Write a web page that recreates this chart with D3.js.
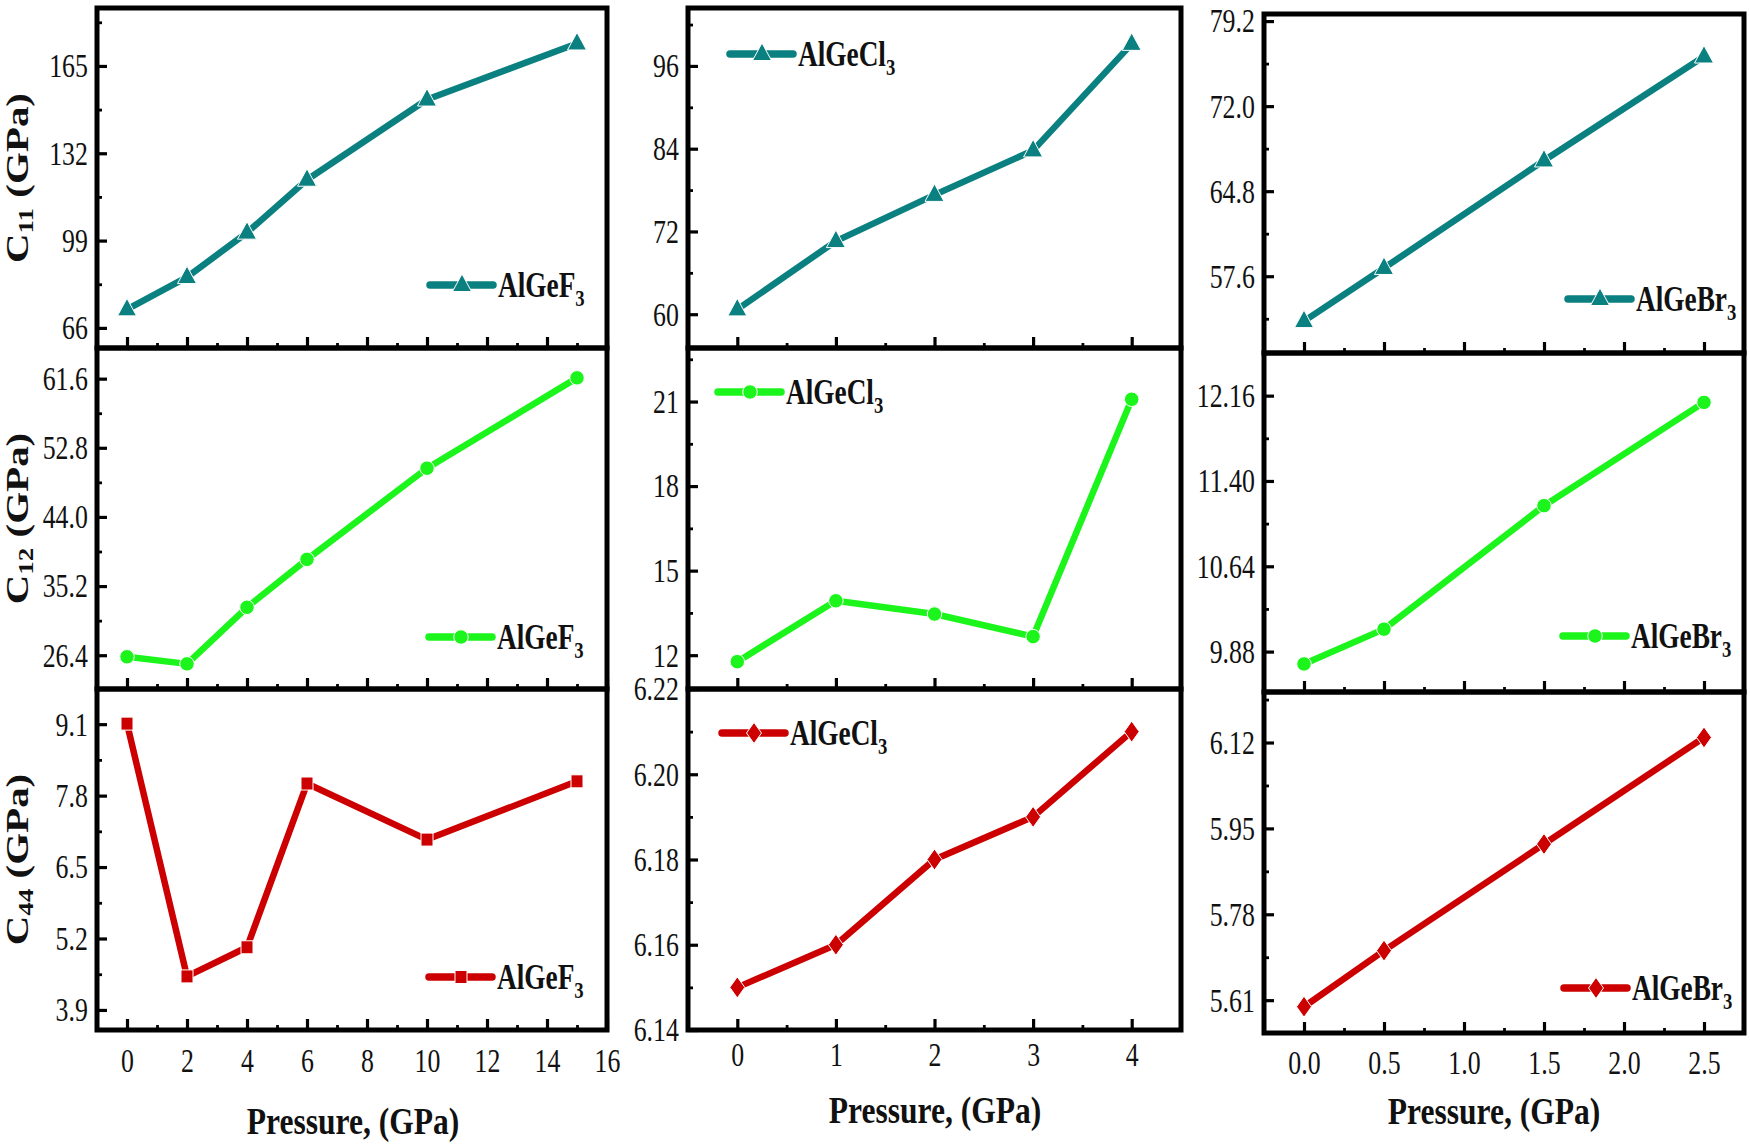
<!DOCTYPE html>
<html>
<head>
<meta charset="utf-8">
<script src="https://cdn.jsdelivr.net/npm/d3@7"></script>
<style>body{margin:0;background:#fff}</style>
</head>
<body>
<svg id="chart" width="1750" height="1144"></svg>
<script>
// ---------------- data ----------------
const pressF  = [0, 2, 4, 6, 10, 15];
const pressCl = [0, 1, 2, 3, 4];
const pressBr = [0, 0.5, 1.5, 2.5];

const c11F  = [73.0, 85.2, 102.0, 122.0, 152.3, 173.5];
const c11Cl = [60.7, 70.6, 77.3, 83.75, 99.2];
const c11Br = [53.8, 58.3, 67.4, 76.2];

const c12F  = [26.2, 25.3, 32.5, 38.6, 50.2, 61.7];
const c12Cl = [11.77, 13.93, 13.46, 12.66, 21.08];
const c12Br = [9.77, 10.08, 11.18, 12.10];

const c44F  = [9.11, 4.51, 5.04, 8.02, 7.0, 8.06];
const c44Cl = [6.15, 6.16, 6.18, 6.19, 6.21];
const c44Br = [5.597, 5.708, 5.919, 6.13];

const compounds = ["AlGeF", "AlGeCl", "AlGeBr"];
const constants = ["11", "12", "44"];
const xTitle = "Pressure, (GPa)";

const xTicksF  = [0, 2, 4, 6, 8, 10, 12, 14, 16];
const xMinorF  = [1, 3, 5, 7, 9, 11, 13, 15];
const xTicksCl = [0, 1, 2, 3, 4];
const xMinorCl = [0.5, 1.5, 2.5, 3.5];
const xTicksBr = [0, 0.5, 1, 1.5, 2, 2.5];
const xMinorBr = [0.25, 0.75, 1.25, 1.75, 2.25];

const yTicksC11F  = [66, 99, 132, 165];
const yMinorC11F  = [82.5, 115.5, 148.5, 181.5];
const yTicksC11Cl = [60, 72, 84, 96];
const yMinorC11Cl = [66, 78, 90, 102];
const yTicksC11Br = [57.6, 64.8, 72.0, 79.2];
const yMinorC11Br = [54.0, 61.2, 68.4, 75.6];
const yTicksC12F  = [26.4, 35.2, 44.0, 52.8, 61.6];
const yMinorC12F  = [30.8, 39.6, 48.4, 57.2];
const yTicksC12Cl = [12, 15, 18, 21];
const yMinorC12Cl = [13.5, 16.5, 19.5, 22.5];
const yTicksC12Br = [9.88, 10.64, 11.40, 12.16];
const yMinorC12Br = [10.26, 11.02, 11.78];
const yTicksC44F  = [3.9, 5.2, 6.5, 7.8, 9.1];
const yMinorC44F  = [4.55, 5.85, 7.15, 8.45];
const yTicksC44Cl = [6.14, 6.16, 6.18, 6.20, 6.22];
const yMinorC44Cl = [6.15, 6.17, 6.19, 6.21];
const yTicksC44Br = [5.61, 5.78, 5.95, 6.12];
const yMinorC44Br = [5.695, 5.865, 6.035, 6.205];

const yDomC11F  = [58.4, 186.9];
const yDomC11Cl = [55.1, 104.4];
const yDomC11Br = [51.1, 79.8];
const yDomC12F  = [22.1, 65.5];
const yDomC12Cl = [10.8, 22.9];
const yDomC12Br = [9.52, 12.54];
const yDomC44F  = [3.535, 9.74];
const yDomC44Cl = [6.14, 6.22];
const yDomC44Br = [5.545, 6.22];

// ---------------- layout / style ----------------
const FONT = "'Liberation Serif','Times New Roman',serif";
const colors = ["#0b8080", "#1cf51c", "#cc0000"];
const SX_TICK = 0.76, SX_LEG = 0.78, SX_TITLE = 0.83;

const columns = [
  {press: pressF,  xDom: [-1, 16],       xRange: [97, 607],    xTicks: xTicksF,  xMinor: xMinorF,  xFmt: d3.format("d"),   rowY: [8, 348, 689, 1030],  titleX: 353,  titleY: 1134, xPad: 18},
  {press: pressCl, xDom: [-0.5, 4.5],    xRange: [688, 1181],  xTicks: xTicksCl, xMinor: xMinorCl, xFmt: d3.format("d"),   rowY: [8, 348, 689, 1030],  titleX: 935,  titleY: 1123, xPad: 12},
  {press: pressBr, xDom: [-0.25, 2.75],  xRange: [1264, 1744], xTicks: xTicksBr, xMinor: xMinorBr, xFmt: d3.format(".1f"), rowY: [14, 353, 692, 1033], titleX: 1494, titleY: 1124, xPad: 17}
];

const panels = [
  // row 0: C11
  {c: 0, r: 0, vals: c11F,  dom: yDomC11F,  ticks: yTicksC11F,  minor: yMinorC11F,  fmt: d3.format("d"),   leg: [430, 285]},
  {c: 1, r: 0, vals: c11Cl, dom: yDomC11Cl, ticks: yTicksC11Cl, minor: yMinorC11Cl, fmt: d3.format("d"),   leg: [730, 54]},
  {c: 2, r: 0, vals: c11Br, dom: yDomC11Br, ticks: yTicksC11Br, minor: yMinorC11Br, fmt: d3.format(".1f"), leg: [1568, 299]},
  // row 1: C12
  {c: 0, r: 1, vals: c12F,  dom: yDomC12F,  ticks: yTicksC12F,  minor: yMinorC12F,  fmt: d3.format(".1f"), leg: [429, 637]},
  {c: 1, r: 1, vals: c12Cl, dom: yDomC12Cl, ticks: yTicksC12Cl, minor: yMinorC12Cl, fmt: d3.format("d"),   leg: [718, 392]},
  {c: 2, r: 1, vals: c12Br, dom: yDomC12Br, ticks: yTicksC12Br, minor: yMinorC12Br, fmt: d3.format(".2f"), leg: [1563, 636]},
  // row 2: C44
  {c: 0, r: 2, vals: c44F,  dom: yDomC44F,  ticks: yTicksC44F,  minor: yMinorC44F,  fmt: d3.format(".1f"), leg: [429, 977]},
  {c: 1, r: 2, vals: c44Cl, dom: yDomC44Cl, ticks: yTicksC44Cl, minor: yMinorC44Cl, fmt: d3.format(".2f"), leg: [722, 733]},
  {c: 2, r: 2, vals: c44Br, dom: yDomC44Br, ticks: yTicksC44Br, minor: yMinorC44Br, fmt: d3.format(".2f"), leg: [1564, 988]}
];

// marker shapes
const triangle = {draw(ctx){ ctx.moveTo(0,-11); ctx.lineTo(9.5,6.5); ctx.lineTo(-9.5,6.5); ctx.closePath(); }};
const circle   = d3.symbolCircle;
const square   = {draw(ctx){ ctx.rect(-6,-6.5,12,13); }};
const diamond  = {draw(ctx){ ctx.moveTo(0,-10.5); ctx.lineTo(7.5,0); ctx.lineTo(0,10.5); ctx.lineTo(-7.5,0); ctx.closePath(); }};
function markerType(c, r){
  if (r === 0) return triangle;
  if (r === 1) return circle;
  return c === 0 ? square : diamond;
}

const svg = d3.select("#chart");

function styleAxis(g, sx, major){
  g.select(".domain").remove();
  g.selectAll(".tick line").attr("stroke", "#000").attr("stroke-width", major ? 3.2 : 2.8);
  g.selectAll(".tick text")
    .attr("font-family", FONT).attr("font-size", 34).attr("fill", "#111")
    .attr("transform", `scale(${sx},1)`);
}

panels.forEach(p => {
  const col = columns[p.c];
  const top = col.rowY[p.r], bot = col.rowY[p.r + 1];
  const x = d3.scaleLinear().domain(col.xDom).range(col.xRange);
  const y = d3.scaleLinear().domain(p.dom).range([bot, top]);
  const color = colors[p.r];
  const g = svg.append("g");

  // frame
  g.append("rect")
    .attr("x", col.xRange[0]).attr("y", top)
    .attr("width", col.xRange[1] - col.xRange[0]).attr("height", bot - top)
    .attr("fill", "none").attr("stroke", "#000").attr("stroke-width", 5);

  // y axis (major + minor, ticks pointing inward)
  const ya = g.append("g").attr("transform", `translate(${col.xRange[0]},0)`)
    .call(d3.axisLeft(y).tickValues(p.ticks).tickFormat(p.fmt).tickSize(-10).tickPadding(12));
  styleAxis(ya, SX_TICK, true);
  const ym = g.append("g").attr("transform", `translate(${col.xRange[0]},0)`)
    .call(d3.axisLeft(y).tickValues(p.minor).tickFormat("").tickSize(-5));
  styleAxis(ym, SX_TICK, false);

  // x axis on bottom of every panel, labels only in the last row
  const xa = g.append("g").attr("transform", `translate(0,${bot})`)
    .call(d3.axisBottom(x).tickValues(col.xTicks)
      .tickFormat(p.r === 2 ? col.xFmt : "").tickSize(-11).tickPadding(col.xPad));
  styleAxis(xa, SX_TICK, true);
  const xm = g.append("g").attr("transform", `translate(0,${bot})`)
    .call(d3.axisBottom(x).tickValues(col.xMinor).tickFormat("").tickSize(-5));
  styleAxis(xm, SX_TICK, false);

  // data line
  const pts = col.press.map((v, i) => [v, p.vals[i]]);
  g.append("path").datum(pts)
    .attr("d", d3.line().x(d => x(d[0])).y(d => y(d[1])))
    .attr("fill", "none").attr("stroke", color).attr("stroke-width", 6.5)
    .attr("stroke-linejoin", "round").attr("stroke-linecap", "round");

  // markers
  const sym = d3.symbol().type(markerType(p.c, p.r)).size(165);
  g.selectAll(".mk").data(pts).join("path")
    .attr("transform", d => `translate(${x(d[0])},${y(d[1])})`)
    .attr("d", sym).attr("fill", color).attr("stroke", "#fff").attr("stroke-width", 1);

  // legend
  const [lx, ly] = p.leg;
  g.append("line").attr("x1", lx).attr("x2", lx + 63).attr("y1", ly).attr("y2", ly)
    .attr("stroke", color).attr("stroke-width", 7.5).attr("stroke-linecap", "round");
  g.append("path").attr("transform", `translate(${lx + 32},${ly})`).attr("d", sym)
    .attr("fill", color).attr("stroke", "#fff").attr("stroke-width", 1);
  const lt = g.append("text")
    .attr("transform", `translate(${lx + 68},${ly + 12}) scale(${SX_LEG},1)`)
    .attr("font-family", FONT).attr("font-size", 35).attr("font-weight", "bold").attr("fill", "#111");
  lt.append("tspan").text(compounds[p.c]);
  lt.append("tspan").attr("font-size", 24).attr("dy", 9).text("3");

  // y title (first column only)
  if (p.c === 0) {
    const cy = (top + bot) / 2;
    const yt = g.append("text")
      .attr("transform", `translate(28,${cy}) rotate(-90) scale(1,0.75)`)
      .attr("text-anchor", "middle")
      .attr("font-family", FONT).attr("font-size", 41).attr("font-weight", "bold").attr("fill", "#111");
    yt.append("tspan").text("C");
    yt.append("tspan").attr("font-size", 27).attr("dy", 7).text(constants[p.r]);
    yt.append("tspan").attr("dy", -7).text(" (GPa)");
  }
});

// x titles
columns.forEach(col => {
  svg.append("text")
    .attr("transform", `translate(${col.titleX},${col.titleY}) scale(${SX_TITLE},1)`)
    .attr("text-anchor", "middle")
    .attr("font-family", FONT).attr("font-size", 38).attr("font-weight", "bold").attr("fill", "#111")
    .text(xTitle);
});
</script>
</body>
</html>
